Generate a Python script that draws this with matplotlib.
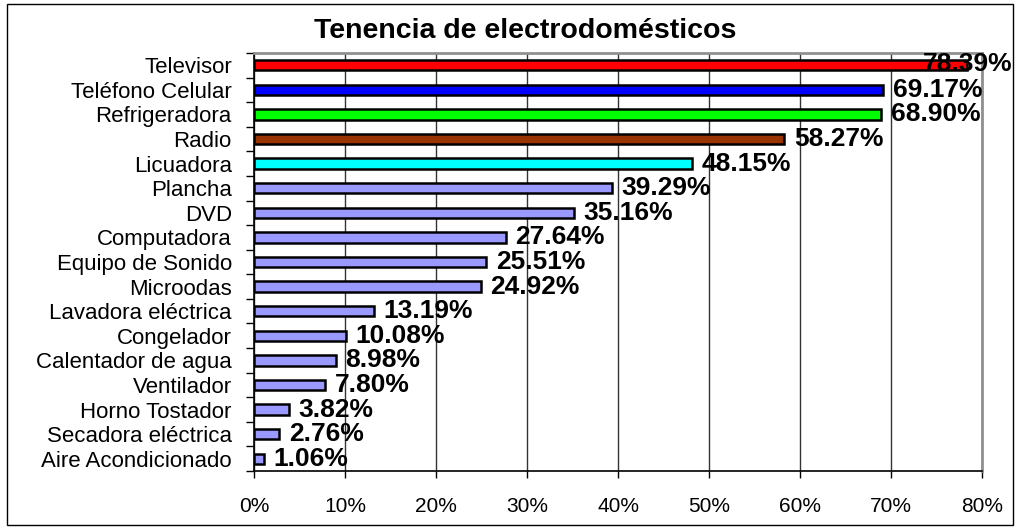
import matplotlib
matplotlib.use("Agg")
import matplotlib.pyplot as plt
from matplotlib.patches import Rectangle
import numpy as np

plt.rcParams['font.family'] = ['Liberation Sans', 'DejaVu Sans']

categories = ["Televisor", "Teléfono Celular", "Refrigeradora", "Radio", "Licuadora",
              "Plancha", "DVD", "Computadora", "Equipo de Sonido", "Microodas",
              "Lavadora eléctrica", "Congelador", "Calentador de agua", "Ventilador",
              "Horno Tostador", "Secadora eléctrica", "Aire Acondicionado"]
values = [78.39, 69.17, 68.90, 58.27, 48.15, 39.29, 35.16, 27.64, 25.51, 24.92,
          13.19, 10.08, 8.98, 7.80, 3.82, 2.76, 1.06]
colors = ["#FF0000", "#0000FF", "#00FF00", "#993300", "#00FFFF"] + ["#9999FF"] * 12
xticks = [0, 10, 20, 30, 40, 50, 60, 70, 80]
xticklabels = ["0%", "10%", "20%", "30%", "40%", "50%", "60%", "70%", "80%"]
title = "Tenencia de electrodomésticos"

W, H = 1015, 529
fig = plt.figure(figsize=(W / 100, H / 100), dpi=100)
fig.patch.set_facecolor("white")
fig.patches.append(Rectangle((7 / W, 1 - 525 / H), (1013 - 7) / W, (525 - 4) / H,
                             transform=fig.transFigure, fill=False,
                             edgecolor="black", linewidth=1.0))

ax = fig.add_axes([254 / W, 1 - 471 / H, 728 / W, 418 / H])
y = np.arange(len(categories))
ax.barh(y, values, height=0.42, color=colors, edgecolor="black", linewidth=1.8, zorder=3)
ax.set_xlim(0, 80)
ax.set_ylim(len(categories) - 0.5, -0.5)

ax.set_xticks(xticks)
ax.set_xticklabels(xticklabels, fontsize=15)
ax.tick_params(axis="x", direction="out", length=5, width=1, pad=14)
ax.xaxis.grid(True, color="#333333", linewidth=1.0, zorder=0)

ax.set_yticks(y)
ax.set_yticklabels(categories, fontsize=16)
ax.tick_params(axis="y", which="major", length=0, pad=16)
ax.set_yticks(np.arange(-0.5, len(categories) + 0.5, 1), minor=True)
ax.tick_params(axis="y", which="minor", direction="out", length=6, width=1)

for s in ["left", "bottom"]:
    ax.spines[s].set_color("black")
    ax.spines[s].set_linewidth(1.2)
for s in ["top", "right"]:
    ax.spines[s].set_color("#909090")
    ax.spines[s].set_linewidth(2.0)

for i, v in enumerate(values):
    lbl = f"{v:.2f}%"
    if i == 0:
        ax.annotate(lbl, xy=(1012 / W, 1 - 64 / H), xycoords="figure fraction",
                    ha="right", va="center", fontsize=19, fontweight="bold", zorder=5,
                    annotation_clip=False)
    else:
        ax.annotate(lbl, xy=(v, i), xytext=(7, 0), textcoords="offset points",
                    ha="left", va="center", fontsize=19, fontweight="bold", zorder=5,
                    annotation_clip=False)

fig.text(525 / W, 1 - 31 / H, title, ha="center", va="center",
         fontsize=20.5, fontweight="bold")

fig.savefig("out.png", dpi=100)
